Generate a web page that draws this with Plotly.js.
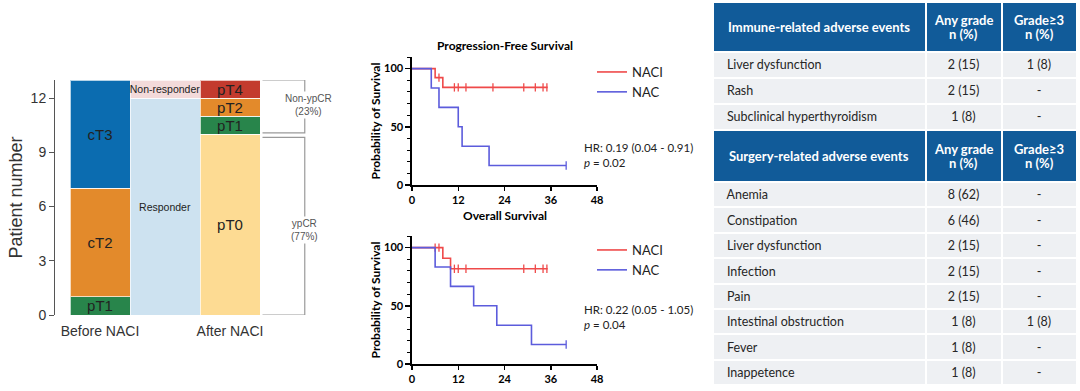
<!DOCTYPE html>
<html><head><meta charset="utf-8">
<script src="https://cdn.plot.ly/plotly-3.0.1.min.js"></script>
<style>html,body{margin:0;padding:0;background:#fff}#chart{width:1080px;height:391px}</style>
</head><body><div id="chart"></div>
<script>
// ---------- Left panel: stacked bars ----------
const beforeLabels = ['pT1', 'cT2', 'cT3'];
const beforeCounts = [1, 6, 6];
const flowLabels = ['Responder', 'Non-responder'];
const flowCounts = [12, 1];
const afterLabels = ['pT0', 'pT1', 'pT2', 'pT4'];
const afterCounts = [10, 1, 1, 1];
const stageTicks = ['Before NACI', 'After NACI'];
const patientTicks = [0, 3, 6, 9, 12];

// ---------- KM: Progression-free survival ----------
const pfsNaciT = [0, 6, 8, 35.2];
const pfsNaciS = [100, 92.3, 83.9, 83.9];
const pfsNaciCensT = [7, 11, 12, 14, 21, 29, 32, 34, 35];
const pfsNaciCensS = [92.3, 83.9, 83.9, 83.9, 83.9, 83.9, 83.9, 83.9, 83.9];
const pfsNacT = [0, 5, 7, 12, 13, 20, 40];
const pfsNacS = [100, 83.3, 66.7, 50, 33.3, 16.7, 16.7];
const pfsNacCensT = [40];
const pfsNacCensS = [16.7];

// ---------- KM: Overall survival ----------
const osNaciT = [0, 8, 10, 35.2];
const osNaciS = [100, 90.9, 81.8, 81.8];
const osNaciCensT = [6, 7, 11, 12, 14, 29, 32, 34, 35];
const osNaciCensS = [100, 100, 81.8, 81.8, 81.8, 81.8, 81.8, 81.8, 81.8];
const osNacT = [0, 6, 10, 16, 22, 31, 40];
const osNacS = [100, 83.3, 66.7, 50, 33.3, 16.7, 16.7];
const osNacCensT = [40];
const osNacCensS = [16.7];
const monthTicks = [0, 12, 24, 36, 48];
const survTicks = [0, 50, 100];
const pfsStats = ['HR: 0.19 (0.04 - 0.91)', '<i>p</i> = 0.02'];
const osStats = ['HR: 0.22 (0.05 - 1.05)', '<i>p</i> = 0.04'];

// ---------- Tables ----------
const irHeader = ['Immune-related adverse events', 'Any grade<br>n (%)', 'Grade≥3<br>n (%)'];
const irEvents = ['Liver dysfunction', 'Rash', 'Subclinical hyperthyroidism'];
const irAny = ['2 (15)', '2 (15)', '1 (8)'];
const irG3 = ['1 (8)', '-', '-'];
const srHeader = ['Surgery-related adverse events', 'Any grade<br>n (%)', 'Grade≥3<br>n (%)'];
const srEvents = ['Anemia', 'Constipation', 'Liver dysfunction', 'Infection', 'Pain', 'Intestinal obstruction', 'Fever', 'Inappetence'];
const srAny = ['8 (62)', '6 (46)', '2 (15)', '2 (15)', '2 (15)', '1 (8)', '1 (8)', '1 (8)'];
const srG3 = ['-', '-', '-', '-', '-', '1 (8)', '-', '-'];

// ---------- styling ----------
const W = 1080, H = 391;
const px = v => v / W;
const py = v => (H - v) / H;
const ARIAL = '"Liberation Sans", Arial, sans-serif';
const CAL = 'Lato, "Open Sans", sans-serif';
const segColors = {
  'pT1': '#28854B', 'cT2': '#E38A2B', 'cT3': '#0B6CB0',
  'pT0': '#FDDB93', 'pT2': '#E38A2B', 'pT4': '#C33B2E',
  'Responder': '#CDE2F0', 'Non-responder': '#F3DADA'
};
const RED = '#EF4A4A', BLUE = '#5C5CDC';

const traces = [];
const annotations = [];
function addStack(xpos, labels, counts, width, fsize) {
  labels.forEach((lab, i) => {
    traces.push({
      type: 'bar', x: [xpos], y: [counts[i]], width: width,
      marker: {color: segColors[lab], line: {color: 'rgba(255,255,255,0.7)', width: 1}},
      text: [lab], textposition: 'inside', insidetextanchor: 'middle',
      constraintext: 'none', textangle: 0,
      textfont: {family: ARIAL, size: fsize, color: '#222'},
      hoverinfo: 'skip', showlegend: false, xaxis: 'x', yaxis: 'y'
    });
  });
}
addStack(0, beforeLabels, beforeCounts, 0.923, 15);
addStack(1, flowLabels, flowCounts, 1.077, 10.5);
addStack(2, afterLabels, afterCounts, 0.923, 15);

function km(t, s, ct, cs, name, color, xa, ya, leg) {
  traces.push({type: 'scatter', mode: 'lines', x: t, y: s, name: name,
    line: {shape: 'hv', color: color, width: 1.6}, xaxis: xa, yaxis: ya,
    legend: leg, hoverinfo: 'skip'});
  traces.push({type: 'scatter', mode: 'markers', x: ct, y: cs, showlegend: false,
    marker: {symbol: 'line-ns', size: 6, line: {color: color, width: 1.3}},
    xaxis: xa, yaxis: ya, hoverinfo: 'skip', cliponaxis: false});
}
km(pfsNaciT, pfsNaciS, pfsNaciCensT, pfsNaciCensS, 'NACI', RED, 'x2', 'y2', 'legend');
km(pfsNacT, pfsNacS, pfsNacCensT, pfsNacCensS, 'NAC', BLUE, 'x2', 'y2', 'legend');
km(osNaciT, osNaciS, osNaciCensT, osNaciCensS, 'NACI', RED, 'x3', 'y3', 'legend2');
km(osNacT, osNacS, osNacCensT, osNacCensS, 'NAC', BLUE, 'x3', 'y3', 'legend2');

const TX0 = 712.5, TX1 = 1077, colW = [213, 76, 75];
function table(hdr, c1, c2, c3, y0, y1, hh, ch) {
  traces.push({
    type: 'table',
    domain: {x: [px(TX0), px(TX1)], y: [py(y1), py(y0)]},
    columnwidth: colW,
    header: {values: hdr.map(() => ''), height: hh,
      fill: {color: '#115B99'}, line: {color: '#FFFFFF', width: 2},
      font: {family: CAL, size: 13, color: '#FFFFFF'}},
    cells: {values: [c1.map(v => '  ' + v), c2, c3], align: ['left', 'center', 'center'], height: ch,
      fill: {color: '#EEF0F3'}, line: {color: '#FFFFFF', width: 2},
      font: {family: CAL, size: 12.5, color: '#262626'}}
  });
  // header texts, vertically centred in the header band
  const tot = colW.reduce((a, b) => a + b, 0), scale = (TX1 - TX0) / tot;
  let left = TX0;
  hdr.forEach((h, j) => {
    const cx = left + colW[j] * scale / 2;
    left += colW[j] * scale;
    const lines = h.split('<br>');
    lines.forEach((ln, k) => {
      const cy = y0 + hh / 2 + (k - (lines.length - 1) / 2) * 13.5;
      annotations.push({xref: 'paper', yref: 'paper', x: px(cx), y: py(cy), xanchor: 'center', yanchor: 'middle',
        text: '<b>' + ln + '</b>', showarrow: false, borderpad: 0,
        font: {family: CAL, size: 13, color: '#FFFFFF'}});
    });
  });
}
table(irHeader, irEvents, irAny, irG3, 2, 131, 50, 26);
table(srHeader, srEvents, srAny, srG3, 130, 387, 52, 25.4);

const kmX = (dom) => ({domain: dom, range: [0, 48], tickvals: monthTicks, showgrid: false, zeroline: false,
  showline: true, linecolor: '#000', linewidth: 1.6, ticks: 'outside', ticklen: 4, tickwidth: 1.5, tickcolor: '#000',
  tickfont: {family: CAL, size: 11, color: '#000', weight: 'bold'}, fixedrange: true});
const kmY = (dom) => ({domain: dom, range: [0, 110], tickvals: survTicks, showgrid: false, zeroline: false,
  showline: true, linecolor: '#000', linewidth: 1.6, ticks: 'outside', ticklen: 5, tickwidth: 1.5, tickcolor: '#000',
  minor: {dtick: 10, ticklen: 3, tickcolor: '#000', tickwidth: 1, ticks: 'outside'},
  tickfont: {family: CAL, size: 11, color: '#000', weight: 'bold'},
  title: {text: 'Probability of Survival', font: {family: CAL, size: 12, color: '#000', weight: 'bold'}, standoff: 1},
  fixedrange: true});

const totalAfter = afterCounts.reduce((a, b) => a + b, 0);
const ypcr = afterCounts[0];
const BR = '#9A9A9A';
const shapes = [
  {type: 'path', xref: 'x', yref: 'y', path: `M 2.5,${totalAfter} L 3.15,${totalAfter} L 3.15,${ypcr + 0.08} L 2.5,${ypcr + 0.08}`, line: {color: BR, width: 1.2}},
  {type: 'path', xref: 'x', yref: 'y', path: `M 2.5,${ypcr - 0.17} L 3.15,${ypcr - 0.17} L 3.15,0 L 2.5,0`, line: {color: BR, width: 1.2}}
];
annotations.push(
  {xref: 'x', yref: 'y', x: 3.2, y: (totalAfter + ypcr) / 2 + 0.1, text: 'Non-ypCR<br>(' + Math.round((totalAfter - ypcr) / totalAfter * 100) + '%)',
   showarrow: false, bgcolor: '#FFFFFF', font: {family: ARIAL, size: 10, color: '#555'}},
  {xref: 'x', yref: 'y', x: 3.15, y: ypcr / 2 - 0.3, text: 'ypCR<br>(' + Math.round(ypcr / totalAfter * 100) + '%)',
   showarrow: false, bgcolor: '#FFFFFF', font: {family: ARIAL, size: 10, color: '#555'}},
  {xref: 'paper', yref: 'paper', x: px(505), y: py(36), xanchor: 'center', text: '<b>Progression-Free Survival</b>', showarrow: false,
   font: {family: CAL, size: 12, color: '#000'}},
  {xref: 'paper', yref: 'paper', x: px(505), y: py(215), xanchor: 'center', text: '<b>Overall Survival</b>', showarrow: false,
   font: {family: CAL, size: 12, color: '#000'}},
  {xref: 'paper', yref: 'paper', x: px(583), y: py(155), xanchor: 'left', align: 'left', text: pfsStats.join('<br>'), showarrow: false,
   borderpad: 0, font: {family: CAL, size: 11.5, color: '#222'}},
  {xref: 'paper', yref: 'paper', x: px(583), y: py(332), xanchor: 'left', align: 'left', text: osStats.join('<br>'), showarrow: false,
   borderpad: 0, font: {family: CAL, size: 11.5, color: '#222'}}
);

const legendBase = {xanchor: 'left', yanchor: 'top', bgcolor: 'rgba(0,0,0,0)', itemwidth: 30, traceorder: 'normal',
  font: {family: CAL, size: 13, color: '#222'}, tracegroupgap: 0};

const layout = {
  width: W, height: H, margin: {l: 0, r: 0, t: 0, b: 0},
  paper_bgcolor: '#FFFFFF', plot_bgcolor: 'rgba(0,0,0,0)',
  barmode: 'stack', bargap: 0,
  xaxis: {domain: [px(55), px(340)], range: [-0.6923, 3.692], tickvals: [0, 2], ticktext: stageTicks,
    showgrid: false, zeroline: false, showline: false, ticks: '', ticklabelstandoff: 6,
    tickfont: {family: ARIAL, size: 14, color: '#333'}, fixedrange: true},
  yaxis: {domain: [py(315), py(80)], range: [0, 13], tickvals: patientTicks, showgrid: false, zeroline: false,
    showline: true, linecolor: '#555', linewidth: 1, ticks: 'outside', ticklen: 5, tickcolor: '#555',
    tickfont: {family: ARIAL, size: 14, color: '#333'},
    title: {text: 'Patient number', font: {family: ARIAL, size: 18, color: '#333'}, standoff: 3}, fixedrange: true},
  xaxis2: Object.assign(kmX([px(412), px(597)]), {anchor: 'y2'}),
  yaxis2: Object.assign(kmY([py(185), py(57)]), {anchor: 'x2'}),
  xaxis3: Object.assign(kmX([px(412), px(597)]), {anchor: 'y3'}),
  yaxis3: Object.assign(kmY([py(364), py(236)]), {anchor: 'x3'}),
  legend: Object.assign({}, legendBase, {x: px(592), y: py(57)}),
  legend2: Object.assign({}, legendBase, {x: px(592), y: py(235)}),
  shapes: shapes, annotations: annotations, showlegend: true
};

Plotly.newPlot('chart', traces, layout, {staticPlot: true, displayModeBar: false});
</script></body></html>
